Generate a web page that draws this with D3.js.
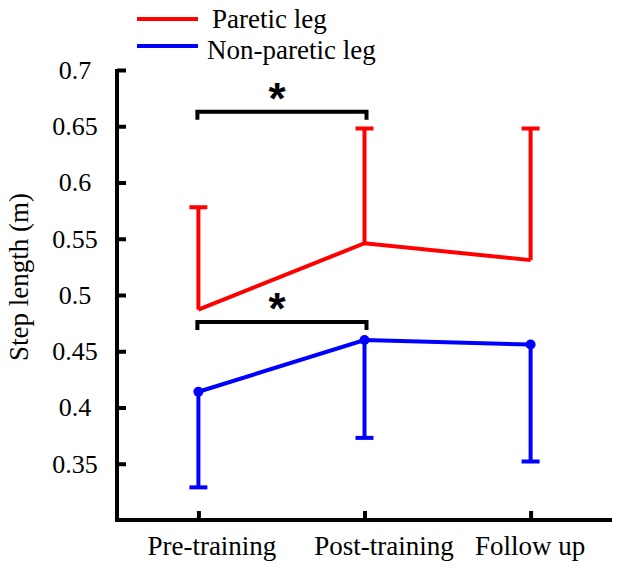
<!DOCTYPE html>
<html>
<head>
<meta charset="utf-8">
<script src="https://cdn.jsdelivr.net/npm/d3@7"></script>
<style>
  body { margin: 0; background: #fff; }
</style>
</head>
<body>
<div id="chart"></div>
<script>
const phases = ["Pre-training", "Post-training", "Follow up"];
const pareticMean = [0.487, 0.546, 0.531];
const pareticUpper = [0.578, 0.648, 0.648];
const nonPareticMean = [0.414, 0.460, 0.456];
const nonPareticLower = [0.329, 0.373, 0.352];
const yTicks = [0.35, 0.4, 0.45, 0.5, 0.55, 0.6, 0.65, 0.7];
const labelShift = [13, 19, -1];
const brackets = [
    {from: "Pre-training", to: "Post-training", y: 0.663},
    {from: "Pre-training", to: "Post-training", y: 0.476}
];

const serif = "Liberation Serif";
const width = 624, height = 575;
const margin = {top: 70, right: 12, bottom: 55, left: 117};

const svg = d3.select("#chart")
    .append("svg")
    .attr("width", width)
    .attr("height", height);

const xScale = d3.scalePoint()
    .domain(phases)
    .range([margin.left, width - margin.right])
    .padding(0.49);

const yScale = d3.scaleLinear()
    .domain([0.3, 0.7])
    .range([height - margin.bottom, margin.top]);

// axes
const xAxis = d3.axisBottom(xScale).tickSize(-9).tickPadding(16).tickSizeOuter(0);
const gx = svg.append("g")
    .attr("transform", `translate(0,${yScale(0.3)})`)
    .call(xAxis)
    .attr("font-family", serif)
    .attr("font-size", 27);
gx.select(".domain").remove();
gx.selectAll(".tick line").attr("stroke", "#000").attr("stroke-width", 4);
gx.selectAll(".tick text")
    .attr("dx", (d, i) => labelShift[i])
    .attr("fill", "#000");

const yAxis = d3.axisLeft(yScale).tickValues(yTicks).tickSize(-9).tickFormat(d => String(d));
const gy = svg.append("g")
    .attr("transform", `translate(${margin.left},0)`)
    .call(yAxis)
    .attr("font-family", serif)
    .attr("font-size", 26);
gy.select(".domain").remove();
gy.selectAll(".tick line").attr("stroke", "#000").attr("stroke-width", 4);
gy.selectAll(".tick text")
    .attr("x", -42)
    .attr("text-anchor", "middle")
    .attr("fill", "#000");

svg.append("path")
    .attr("d", `M${margin.left},${yScale(0.7) - 1}V${yScale(0.3)}H${width - margin.right}`)
    .attr("fill", "none")
    .attr("stroke", "#000")
    .attr("stroke-width", 4);

svg.append("text")
    .attr("transform", `translate(28,${(yScale(0.3) + yScale(0.7)) / 2 - 18}) rotate(-90)`)
    .attr("text-anchor", "middle")
    .attr("font-family", serif)
    .attr("font-size", 27)
    .text("Step length (m)");

// error bars
function errorBars(means, ends, color) {
    const g = svg.append("g").attr("stroke", color).attr("stroke-width", 4);
    phases.forEach((p, i) => {
        const x = xScale(p);
        g.append("line")
            .attr("x1", x).attr("x2", x)
            .attr("y1", yScale(means[i])).attr("y2", yScale(ends[i]));
        g.append("line")
            .attr("x1", x - 9).attr("x2", x + 9)
            .attr("y1", yScale(ends[i])).attr("y2", yScale(ends[i]));
    });
}
errorBars(pareticMean, pareticUpper, "#ff0000");
errorBars(nonPareticMean, nonPareticLower, "#0000ff");

const line = d3.line()
    .x((d, i) => xScale(phases[i]))
    .y(d => yScale(d));

svg.append("path")
    .datum(pareticMean)
    .attr("d", line)
    .attr("fill", "none")
    .attr("stroke", "#ff0000")
    .attr("stroke-width", 4);

svg.append("path")
    .datum(nonPareticMean)
    .attr("d", line)
    .attr("fill", "none")
    .attr("stroke", "#0000ff")
    .attr("stroke-width", 4);

svg.selectAll("circle.np")
    .data(nonPareticMean)
    .enter()
    .append("circle")
    .attr("class", "np")
    .attr("cx", (d, i) => xScale(phases[i]))
    .attr("cy", d => yScale(d))
    .attr("r", 5)
    .attr("fill", "#0000ff");

// significance brackets
brackets.forEach(b => {
    const x1 = xScale(b.from) - 1, x2 = xScale(b.to) + 2, y = yScale(b.y);
    svg.append("path")
        .attr("d", `M${x1},${y + 8}V${y}H${x2}V${y + 8}`)
        .attr("fill", "none")
        .attr("stroke", "#000")
        .attr("stroke-width", 4);
    svg.append("text")
        .attr("x", (x1 + x2) / 2 - 5)
        .attr("y", y + 2)
        .attr("text-anchor", "middle")
        .attr("font-family", "Liberation Sans")
        .attr("font-weight", "bold")
        .attr("font-size", 44)
        .text("*");
});

// legend
const legend = [
    {name: "Paretic leg", color: "#ff0000", dx: 5, dy: 9},
    {name: "Non-paretic leg", color: "#0000ff", dx: 0, dy: 13}
];
legend.forEach((d, i) => {
    const y = 19 + i * 27;
    svg.append("line")
        .attr("x1", 137).attr("x2", 198)
        .attr("y1", y).attr("y2", y)
        .attr("stroke", d.color)
        .attr("stroke-width", 4);
    svg.append("text")
        .attr("x", 207 + d.dx)
        .attr("y", y + d.dy)
        .attr("font-family", serif)
        .attr("font-size", 27)
        .text(d.name);
});
</script>
</body>
</html>
